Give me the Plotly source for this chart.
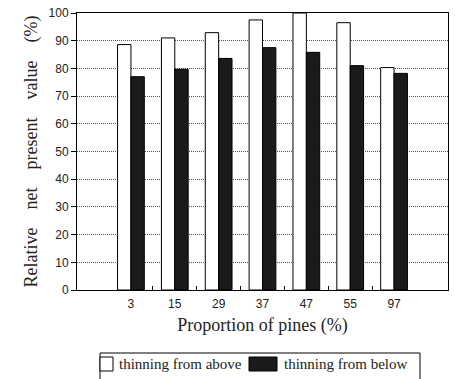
import plotly.graph_objects as go

categories = ["3", "15", "29", "37", "47", "55", "97"]
from_above = [88.6, 91.0, 92.9, 97.5, 100.0, 96.5, 80.3]
from_below = [77.0, 79.7, 83.6, 87.5, 85.8, 81.0, 78.2]
y_ticks = [0, 10, 20, 30, 40, 50, 60, 70, 80, 90, 100]
series_names = ["thinning from above", "thinning from below"]

xpos = list(range(len(categories)))

fig = go.Figure()
fig.add_trace(go.Bar(x=xpos, y=from_above, name=series_names[0],
                     marker=dict(color="white", line=dict(color="black", width=1))))
fig.add_trace(go.Bar(x=xpos, y=from_below, name=series_names[1],
                     marker=dict(color="#1a1a1a", line=dict(color="black", width=1))))

serif = "Liberation Serif"
sans = "Liberation Sans"

# plot area sits at x 77..448, y 13..290
def px(x):
    return (x - 77) / 371.0

def py(y):
    return (290 - y) / 277.0

shapes = [
    dict(type="rect", xref="paper", yref="paper", x0=px(100), x1=px(420), y0=py(385), y1=py(353),
         line=dict(color="black", width=1), fillcolor="white"),
    dict(type="rect", xref="paper", yref="paper", x0=px(100), x1=px(113), y0=py(371), y1=py(357),
         line=dict(color="black", width=1), fillcolor="white"),
    dict(type="rect", xref="paper", yref="paper", x0=px(249), x1=px(277), y0=py(371), y1=py(357),
         line=dict(color="black", width=1), fillcolor="#1a1a1a"),
]
annotations = [
    dict(text=series_names[0], xref="paper", yref="paper", x=px(117), y=py(364),
         xanchor="left", yanchor="middle", showarrow=False,
         font=dict(family=serif, size=15, color="#222")),
    dict(text=series_names[1], xref="paper", yref="paper", x=px(282), y=py(364),
         xanchor="left", yanchor="middle", showarrow=False,
         font=dict(family=serif, size=15, color="#222")),
]

sp = "\u00a0" * 4
fig.update_layout(
    width=455, height=379,
    margin=dict(l=77, r=7, t=13, b=89, autoexpand=False),
    paper_bgcolor="white", plot_bgcolor="white",
    barmode="group", bargap=0.39, bargroupgap=0,
    showlegend=False,
    shapes=shapes, annotations=annotations,
    xaxis=dict(range=[-1.23, 7.23], tickmode="array", tickvals=xpos, ticktext=categories,
               ticks="", showgrid=False, zeroline=False, automargin=True,
               ticklabelstandoff=3,
               showline=True, linecolor="black", linewidth=1, mirror=True,
               tickfont=dict(family=sans, size=12, color="#222"),
               minor=dict(tickvals=[0.5, 1.5, 2.5, 3.5, 4.5, 5.5], ticks="inside",
                          ticklen=4, tickcolor="black", showgrid=False),
               title=dict(text="Proportion of pines (%)", standoff=7,
                          font=dict(family=serif, size=18, color="#222"))),
    yaxis=dict(range=[0, 100], tickmode="array", tickvals=y_ticks,
               ticks="outside", ticklen=5, tickcolor="black",
               showgrid=True, gridcolor="#555", griddash="1px,1px", gridwidth=1,
               zeroline=False, automargin=True,
               showline=True, linecolor="black", linewidth=1, mirror=True,
               tickfont=dict(family=sans, size=12, color="#222"),
               title=dict(text=sp.join(["Relative", "net", "present", "value", "(%)"]),
                          standoff=6,
                          font=dict(family=serif, size=18, color="#222"))),
)

fig.write_html("out.html", config={"displayModeBar": False},
               post_script="document.body.style.margin='0px';")
